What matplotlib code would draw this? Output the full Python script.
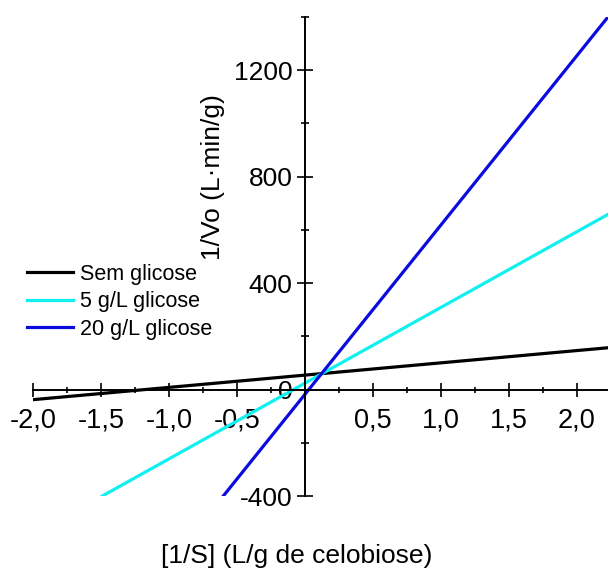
import matplotlib
matplotlib.use('Agg')
import matplotlib.pyplot as plt
from matplotlib.ticker import FixedLocator

plt.rcParams['font.family'] = ['Liberation Sans', 'DejaVu Sans']

# Extremidades das retas (1/S, 1/Vo)
x_sem = [-2.0, 2.25]
y_sem = [-38, 158]
x_5g = [-1.49, 2.25]
y_5g = [-400, 664]
x_20g = [-0.6, 2.25]
y_20g = [-400, 1413]

series = ['Sem glicose', '5 g/L glicose', '20 g/L glicose']
cores = ['black', '#10F0F0', '#0B0BE0']

x_ticks = [-2.0, -1.5, -1.0, -0.5, 0.5, 1.0, 1.5, 2.0]
x_labels = ['-2,0', '-1,5', '-1,0', '-0,5', '0,5', '1,0', '1,5', '2,0']
x_minor = [-1.75, -1.25, -0.75, -0.25, 0.25, 0.75, 1.25, 1.75]
y_ticks = [-400, 0, 400, 800, 1200]
y_minor = [-200, 200, 600, 1000, 1400]

fig = plt.figure(figsize=(6.08, 5.72), dpi=100)
ax = fig.add_axes([33 / 608, 76 / 572, 575 / 608, 479 / 572])

for xs, ys, nome, cor in zip([x_sem, x_5g, x_20g], [y_sem, y_5g, y_20g], series, cores):
    ax.plot(xs, ys, color=cor, linewidth=2.3, label=nome)

ax.set_xlim(-2.0, 2.23)
ax.set_ylim(-400, 1400)

ax.spines['top'].set_visible(False)
ax.spines['right'].set_visible(False)
ax.spines['left'].set_position(('data', 0))
ax.spines['bottom'].set_position(('data', 0))
ax.spines['left'].set_linewidth(1.4)
ax.spines['bottom'].set_linewidth(1.4)

ax.xaxis.set_major_locator(FixedLocator(x_ticks))
ax.xaxis.set_minor_locator(FixedLocator(x_minor))
ax.set_xticklabels(x_labels)
ax.yaxis.set_major_locator(FixedLocator(y_ticks))
ax.yaxis.set_minor_locator(FixedLocator(y_minor))
ax.set_yticklabels([str(v) for v in y_ticks])

ax.tick_params(axis='x', which='major', direction='inout', length=10, width=1.2,
               labelsize=19.5, pad=8)
ax.tick_params(axis='x', which='minor', direction='inout', length=5, width=1.2)
ax.tick_params(axis='y', which='major', direction='inout', length=12, width=1.2,
               labelsize=19, pad=3)
ax.tick_params(axis='y', which='minor', direction='inout', length=6, width=1.2)

ax.set_xlabel('[1/S] (L/g de celobiose)', fontsize=19)
ax.xaxis.set_label_coords(0.459, -0.126)
ax.xaxis.label.set_va('center')
ax.set_ylabel('1/Vo (L·min/g)', fontsize=19)
ax.yaxis.set_label_coords(0.313, 0.665)
ax.yaxis.label.set_va('center')

ax.legend(loc='upper left', bbox_to_anchor=(27 / 608, 1 - 264 / 572),
          bbox_transform=fig.transFigure, frameon=False, fontsize=15.5,
          handlelength=2.14, handletextpad=0.33, labelspacing=0.3,
          borderpad=0, borderaxespad=0)

plt.savefig('out.png', dpi=100)
